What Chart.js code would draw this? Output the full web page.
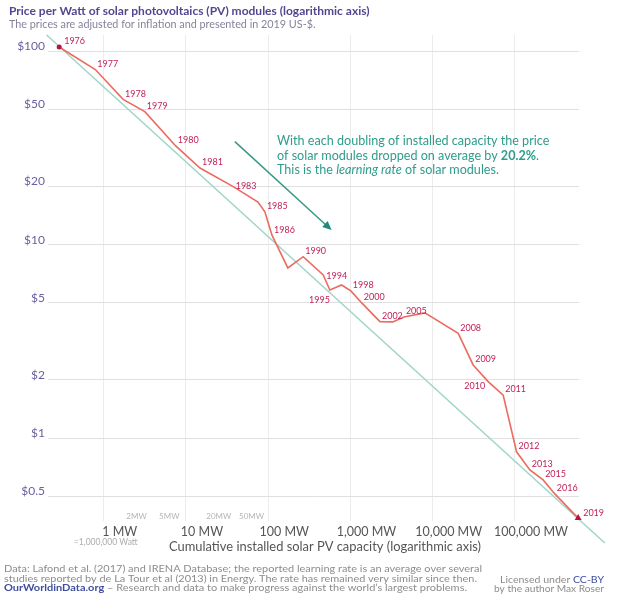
<!DOCTYPE html>
<html>
<head>
<meta charset="utf-8">
<script src="https://cdn.jsdelivr.net/npm/chart.js@4"></script>
<style>
  html, body { margin: 0; padding: 0; background: #fff; }
  #wrap { position: relative; width: 618px; height: 601px; }
</style>
</head>
<body>
<div id="wrap"><canvas id="c" width="618" height="601"></canvas></div>
<script>
// Solar PV module price (2019 US-$ per Watt) against cumulative installed capacity (MW)
const years = [1976, 1977, 1978, 1979, 1980, 1981, 1983, 1984, 1985, 1986, 1988, 1990, 1994, 1995, 1996, 1998,
  2000, 2002, 2003, 2005, 2006, 2008, 2009, 2010, 2011, 2012, 2013, 2015, 2016, 2019];
const capacityMW = [0.287, 0.79, 1.72, 3.16, 7.5, 14.8, 38, 75, 91, 111, 173, 266, 466, 561, 779, 1010,
  1370, 2280, 3270, 4460, 8020, 20400, 31000, 47200, 71800, 104500, 151600, 219800, 305000, 586000];
const priceUSD = [105.1, 80.4, 56.4, 48.7, 32.4, 24.9, 19.9, 16.6, 14.8, 11.2, 7.58, 8.67, 6.97, 5.83, 6.19, 5.77,
  5.0, 4.0, 3.99, 4.23, 4.44, 3.48, 2.39, 1.96, 1.67, 0.85, 0.685, 0.608, 0.515, 0.386];
const labeledYears = [1976, 1977, 1978, 1979, 1980, 1981, 1983, 1985, 1986, 1990, 1994, 1995, 1998, 2000, 2002,
  2005, 2008, 2009, 2010, 2011, 2012, 2013, 2015, 2016, 2019];

// Learning-curve line (two end points)
const trendCapacityMW = [0.202, 1237000];
const trendPriceUSD = [121.3, 0.287];

// Axis ticks
const priceTicks = [0.5, 1, 2, 5, 10, 20, 50, 100];
const priceTickLabels = ['$0.5', '$1', '$2', '$5', '$10', '$20', '$50', '$100'];
const capacityTicks = [1, 10, 100, 1000, 10000, 100000];
const capacityTickLabels = ['1 MW', '10 MW', '100 MW', '1,000 MW', '10,000 MW', '100,000 MW'];
const minorCapacityTicks = [2, 5, 20, 50];
const minorCapacityLabels = ['2MW', '5MW', '20MW', '50MW'];

const FONT = 'Lato, "Open Sans", sans-serif';
const priceSeries = years.map((y, i) => ({ x: capacityMW[i], y: priceUSD[i] }));
const trendSeries = trendCapacityMW.map((c, i) => ({ x: c, y: trendPriceUSD[i] }));

// Draw a run of differently styled text pieces on one line,
// optionally stretched to a given total width
function drawRuns(ctx, runs, x, y, align, width) {
  let total = 0;
  runs.forEach(r => { ctx.font = r.font; total += ctx.measureText(r.text).width; });
  const k = width ? width / total : 1;
  const w = total * k;
  const left = align === 'right' ? x - w : x;
  ctx.save();
  ctx.translate(left, y);
  ctx.scale(k, 1);
  ctx.textAlign = 'left';
  let cx = 0;
  runs.forEach(r => {
    ctx.font = r.font;
    ctx.fillStyle = r.color;
    ctx.fillText(r.text, cx, 0);
    cx += ctx.measureText(r.text).width;
  });
  ctx.restore();
}

// Per-label placement tweaks for the year labels: [dx, dy, align]
const yearLabelPlacement = {
  1976: [5, -5.5, 'left'],
  1983: [2, -1, 'left'],
  1994: [3, 1, 'left'],
  1995: [0, 10, 'right'],
  2010: [-3, 4, 'right'],
  2019: [5, -5.5, 'left']
};

const decorations = {
  id: 'decorations',
  beforeDraw(chart) {
    const ctx = chart.ctx;
    ctx.save();
    ctx.fillStyle = '#ffffff';
    ctx.fillRect(0, 0, chart.width, chart.height);
    ctx.restore();
  },
  afterDraw(chart) {
    const ctx = chart.ctx;
    const xs = chart.scales.x, ys = chart.scales.y;
    ctx.save();
    ctx.textBaseline = 'middle';

    // Heading
    ctx.textAlign = 'left';
    ctx.font = 'bold 12px ' + FONT;
    ctx.fillStyle = '#54468f';
    ctx.fillText('Price per Watt of solar photovoltaics (PV) modules (logarithmic axis)', 9, 11.5);
    ctx.font = '10.8px ' + FONT;
    ctx.fillStyle = '#87829b';
    ctx.fillText('The prices are adjusted for inflation and presented in 2019 US-$.', 9, 24.5);

    // Learning-rate note and arrow
    const teal = '#2f9c8c';
    const nf = '12.6px ' + FONT;
    const tx = 277;
    drawRuns(ctx, [{ text: 'With each doubling of installed capacity the price', font: nf, color: teal }], tx, 141);
    drawRuns(ctx, [
      { text: 'of solar modules dropped on average by ', font: nf, color: teal },
      { text: '20.2%', font: 'bold ' + nf, color: teal },
      { text: '.', font: nf, color: teal }
    ], tx, 155.5);
    drawRuns(ctx, [
      { text: 'This is the ', font: nf, color: teal },
      { text: 'learning rate', font: 'italic ' + nf, color: teal },
      { text: ' of solar modules.', font: nf, color: teal }
    ], tx, 170);

    const ax0 = xs.getPixelForValue(39.3), ay0 = ys.getPixelForValue(34.1);
    const ax1 = xs.getPixelForValue(589), ay1 = ys.getPixelForValue(11.9);
    const ang = Math.atan2(ay1 - ay0, ax1 - ax0);
    ctx.strokeStyle = '#3a9888';
    ctx.lineWidth = 1.5;
    ctx.beginPath();
    ctx.moveTo(ax0, ay0);
    ctx.lineTo(ax1 - 5 * Math.cos(ang), ay1 - 5 * Math.sin(ang));
    ctx.stroke();
    ctx.fillStyle = '#1f8a7a';
    ctx.beginPath();
    ctx.moveTo(ax1, ay1);
    ctx.lineTo(ax1 - 9 * Math.cos(ang) + 4 * Math.sin(ang), ay1 - 9 * Math.sin(ang) - 4 * Math.cos(ang));
    ctx.lineTo(ax1 - 9 * Math.cos(ang) - 4 * Math.sin(ang), ay1 - 9 * Math.sin(ang) + 4 * Math.cos(ang));
    ctx.closePath();
    ctx.fill();

    // Year labels next to the price line
    const meta = chart.getDatasetMeta(1);
    ctx.font = '9px ' + FONT;
    ctx.fillStyle = '#c2215a';
    years.forEach((yr, i) => {
      if (!labeledYears.includes(yr)) return;
      const pt = meta.data[i];
      const [dx, dy, align] = yearLabelPlacement[yr] || [2, -5.5, 'left'];
      ctx.textAlign = align;
      ctx.fillText(String(yr), pt.x + dx, pt.y + dy);
    });

    // Minor capacity labels
    ctx.textAlign = 'center';
    ctx.font = '8px ' + FONT;
    ctx.fillStyle = '#b4b4b4';
    minorCapacityTicks.forEach((v, i) => {
      ctx.fillText(minorCapacityLabels[i], xs.getPixelForValue(v) + 8, 516);
    });
    ctx.font = '8.5px ' + FONT;
    ctx.fillStyle = '#adadad';
    ctx.fillText('=1,000,000 Watt', xs.getPixelForValue(1) + 2, 542.5);

    // Axis title
    ctx.font = '12.9px ' + FONT;
    ctx.fillStyle = '#555555';
    ctx.fillText('Cumulative installed solar PV capacity (logarithmic axis)', 325, 547);

    // Sources and licence
    const grey = '#8c8c8c', blue = '#3f4d9e';
    const f = '10.2px ' + FONT;
    drawRuns(ctx, [{ text: 'Data: Lafond et al. (2017) and IRENA Database; the reported learning rate is an average over several', font: f, color: grey }], 4, 569, 'left', 478);
    drawRuns(ctx, [{ text: 'studies reported by de La Tour et al (2013) in Energy. The rate has remained very similar since then.', font: f, color: grey }], 4, 578.5, 'left', 473);
    drawRuns(ctx, [
      { text: 'OurWorldinData.org', font: 'bold ' + f, color: blue },
      { text: ' \u2013 Research and data to make progress against the world\u2019s largest problems.', font: f, color: grey }
    ], 4, 588, 'left', 463);
    drawRuns(ctx, [
      { text: 'Licensed under ', font: f, color: grey },
      { text: 'CC-BY', font: f, color: blue }
    ], 604, 579.5, 'right', 104);
    drawRuns(ctx, [{ text: 'by the author Max Roser', font: f, color: grey }], 604, 588.5, 'right', 110);

    ctx.restore();
  }
};

new Chart(document.getElementById('c'), {
  type: 'line',
  data: {
    datasets: [
      {
        label: 'Learning curve',
        data: trendSeries,
        borderColor: '#9fd5c8',
        borderWidth: 1.5,
        pointRadius: 0,
        clip: false,
        order: 2
      },
      {
        label: 'Module price',
        data: priceSeries,
        borderColor: '#ec6b60',
        borderWidth: 1.6,
        tension: 0,
        clip: false,
        pointRadius: c => (c.dataIndex === 0 ? 2.5 : (c.dataIndex === years.length - 1 ? 4 : 0)),
        pointStyle: c => (c.dataIndex === years.length - 1 ? 'triangle' : 'circle'),
        pointBackgroundColor: '#b8123e',
        pointBorderColor: '#b8123e',
        pointBorderWidth: 0,
        order: 1
      }
    ]
  },
  options: {
    responsive: false,
    animation: false,
    layout: { padding: { top: 35, right: 39, bottom: 0, left: 0 } },
    plugins: { legend: { display: false }, tooltip: { enabled: false } },
    scales: {
      x: {
        type: 'logarithmic',
        min: 0.21,
        max: 600000,
        afterBuildTicks: s => { s.ticks = capacityTicks.map(v => ({ value: v })); },
        afterFit: s => { s.height = 80; },
        grid: { color: '#ececec', drawTicks: false },
        border: { display: false },
        ticks: {
          autoSkip: false,
          maxRotation: 0,
          padding: 3,
          labelOffset: 16,
          color: '#555555',
          font: { family: FONT, size: 12.5 },
          callback: v => capacityTickLabels[capacityTicks.indexOf(v)]
        }
      },
      y: {
        type: 'logarithmic',
        min: 0.373,
        max: 121.3,
        afterBuildTicks: s => { s.ticks = priceTicks.map(v => ({ value: v })); },
        afterFit: s => { s.width = 48; },
        grid: { color: '#e0e0e0', drawTicks: false },
        border: { display: false },
        ticks: {
          autoSkip: false,
          padding: 3,
          labelOffset: -5,
          color: '#6d5ea0',
          font: { family: FONT, size: 12 },
          callback: v => priceTickLabels[priceTicks.indexOf(v)]
        }
      }
    }
  },
  plugins: [decorations]
});
</script>
</body>
</html>
